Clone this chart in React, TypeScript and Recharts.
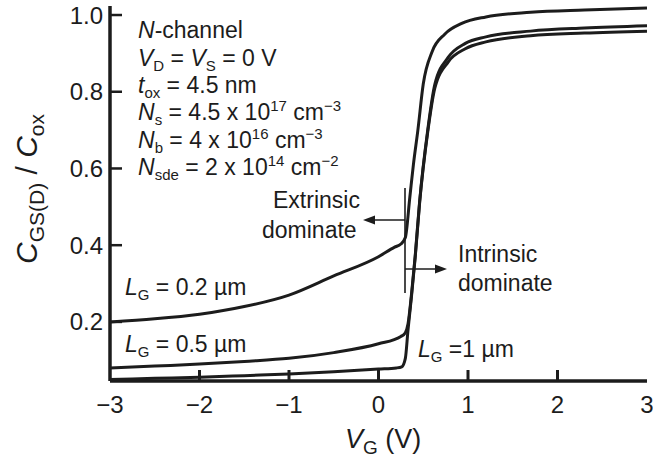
import React from 'react';
import { LineChart, Line, XAxis, YAxis } from 'recharts';

// gate voltage (V) and normalized capacitance, one pair per gate length
const vg02 = [-3, -2.5, -2, -1.5, -1, -0.5, 0, 0.18, 0.25, 0.3, 0.35, 0.39, 0.44, 0.5, 0.6, 0.74, 0.93, 1.2, 1.7, 2.3, 3];
const cap02 = [0.2, 0.208, 0.22, 0.24, 0.27, 0.32, 0.37, 0.395, 0.403, 0.42, 0.525, 0.61, 0.7, 0.82, 0.905, 0.95, 0.978, 0.995, 1.007, 1.013, 1.018];

const vg05 = [-3, -2.5, -2, -1.5, -1, -0.5, 0, 0.25, 0.3, 0.33, 0.37, 0.41, 0.46, 0.55, 0.63, 0.78, 0.97, 1.2, 1.7, 2.3, 3];
const cap05 = [0.08, 0.085, 0.09, 0.097, 0.105, 0.12, 0.143, 0.162, 0.172, 0.195, 0.275, 0.372, 0.515, 0.7, 0.82, 0.89, 0.926, 0.943, 0.958, 0.966, 0.972];

const vg1 = [-3, -2.5, -2, -1.5, -1, -0.5, 0, 0.2, 0.26, 0.3, 0.33, 0.37, 0.41, 0.46, 0.55, 0.63, 0.78, 0.97, 1.2, 1.7, 2.3, 3];
const cap1 = [0.05, 0.053, 0.056, 0.06, 0.064, 0.07, 0.077, 0.08, 0.083, 0.105, 0.18, 0.27, 0.368, 0.512, 0.695, 0.81, 0.878, 0.912, 0.93, 0.946, 0.953, 0.958];

const xTicks = [-3, -2, -1, 0, 1, 2, 3];
const yTicks = [0.2, 0.4, 0.6, 0.8, 1.0];

const toPoints = (v: number[], c: number[]) => v.map((x, i) => ({ v: x, c: c[i] }));

const INK = '#1c1c1c';
const FONT = '"Liberation Sans", Arial, Helvetica, sans-serif';

const XTick = ({ x, y, payload }: any) => {
  const val = payload.value as number;
  const label = val < 0 ? `\u2212${Math.abs(val)}` : `${val}`;
  return (
    <g>
      {val > -3 && val < 3 && <line x1={x} x2={x} y1={y} y2={y - 11} stroke={INK} strokeWidth={3} />}
      <text x={x} y={y + 32} textAnchor="middle" fontSize={24} fill={INK} fontFamily={FONT}>
        {label}
      </text>
    </g>
  );
};

const YTick = ({ x, y, payload }: any) => (
  <g>
    <line x1={x} x2={x + 12} y1={y} y2={y} stroke={INK} strokeWidth={2.5} />
    <text x={x - 7} y={y + 8.5} textAnchor="end" fontSize={24} fill={INK} fontFamily={FONT}>
      {(payload.value as number).toFixed(1)}
    </text>
  </g>
);

const Sub = ({ children }: { children: React.ReactNode }) => (
  <tspan fontSize={15} dy={5}>{children}</tspan>
);

const Sup = ({ children }: { children: React.ReactNode }) => (
  <tspan fontSize={15} dy={-9}>{children}</tspan>
);

const App: React.FC = () => {
  const d02 = toPoints(vg02, cap02);
  const d05 = toPoints(vg05, cap05);
  const d1 = toPoints(vg1, cap1);

  return (
    <div style={{ position: 'absolute', left: 0, top: 0, width: 653, height: 463, background: '#fff', fontFamily: FONT }}>
      <LineChart width={653} height={463} margin={{ top: 6, right: 6, bottom: 0, left: 0 }}>
        <XAxis
          xAxisId="b"
          type="number"
          dataKey="v"
          domain={[-3, 3]}
          ticks={xTicks}
          allowDataOverflow
          height={82}
          tickSize={0}
          tickMargin={0}
          tickLine={false}
          tick={<XTick />}
          axisLine={{ stroke: INK, strokeWidth: 3.5 }}
        />
        <XAxis
          xAxisId="t"
          orientation="top"
          type="number"
          dataKey="v"
          domain={[-3, 3]}
          height={0}
          tick={false}
          tickLine={false}
          axisLine={{ stroke: INK, strokeWidth: 2.5 }}
        />
        <YAxis
          yAxisId="l"
          type="number"
          domain={[0.046, 1.0235]}
          ticks={yTicks}
          allowDataOverflow
          width={110}
          tickSize={0}
          tickMargin={0}
          tickLine={false}
          tick={<YTick />}
          axisLine={{ stroke: INK, strokeWidth: 3.5 }}
        />
        <YAxis
          yAxisId="r"
          orientation="right"
          type="number"
          domain={[0.046, 1.0235]}
          width={0}
          tick={false}
          tickLine={false}
          axisLine={{ stroke: INK, strokeWidth: 2.5 }}
        />
        <Line xAxisId="b" yAxisId="l" data={d02} dataKey="c" type="monotone" stroke={INK} strokeWidth={3} dot={false} isAnimationActive={false} />
        <Line xAxisId="b" yAxisId="l" data={d05} dataKey="c" type="monotone" stroke={INK} strokeWidth={3} dot={false} isAnimationActive={false} />
        <Line xAxisId="b" yAxisId="l" data={d1} dataKey="c" type="monotone" stroke={INK} strokeWidth={3} dot={false} isAnimationActive={false} />
      </LineChart>

      <svg width={653} height={463} style={{ position: 'absolute', left: 0, top: 0, pointerEvents: 'none' }}>
        <g fill={INK} fontFamily={FONT} fontSize={23} style={{ whiteSpace: 'pre' }}>
          <text x={138} y={38}><tspan fontStyle="italic">N</tspan>-channel</text>
          <text x={138} y={66}>
            <tspan fontStyle="italic">V</tspan><Sub>D</Sub><tspan dy={-5}> = </tspan>
            <tspan fontStyle="italic">V</tspan><Sub>S</Sub><tspan dy={-5}> = 0 V</tspan>
          </text>
          <text x={138} y={93}>
            <tspan fontStyle="italic">t</tspan><Sub>ox</Sub><tspan dy={-5}> = 4.5 nm</tspan>
          </text>
          <text x={138} y={120}>
            <tspan fontStyle="italic">N</tspan><Sub>s</Sub><tspan dy={-5}> = 4.5 x 10</tspan>
            <Sup>17</Sup><tspan dy={9}> cm</tspan>
            <Sup>{'\u22123'}</Sup>
          </text>
          <text x={138} y={148}>
            <tspan fontStyle="italic">N</tspan><Sub>b</Sub><tspan dy={-5}> = 4 x 10</tspan>
            <Sup>16</Sup><tspan dy={9}> cm</tspan>
            <Sup>{'\u22123'}</Sup>
          </text>
          <text x={138} y={175}>
            <tspan fontStyle="italic">N</tspan><Sub>sde</Sub><tspan dy={-5}> = 2 x 10</tspan>
            <Sup>14</Sup><tspan dy={9}> cm</tspan>
            <Sup>{'\u22122'}</Sup>
          </text>

          <text x={273} y={208}>Extrinsic</text>
          <text x={262} y={238}>dominate</text>
          <text x={458} y={262}>Intrinsic</text>
          <text x={458} y={291}>dominate</text>

          <text x={125} y={295}>
            <tspan fontStyle="italic">L</tspan><Sub>G</Sub><tspan dy={-5}> = 0.2 µm</tspan>
          </text>
          <text x={125} y={352}>
            <tspan fontStyle="italic">L</tspan><Sub>G</Sub><tspan dy={-5}> = 0.5 µm</tspan>
          </text>
          <text x={418} y={357}>
            <tspan fontStyle="italic">L</tspan><Sub>G</Sub><tspan dy={-5}> =1 µm</tspan>
          </text>

          <text x={345} y={448} fontSize={27}>
            <tspan fontStyle="italic">V</tspan><tspan fontSize={19} dy={6}>G</tspan><tspan dy={-6}> (V)</tspan>
          </text>
          <text x={37} y={189} fontSize={30} textAnchor="middle" transform="rotate(-90 37 189)">
            <tspan fontStyle="italic">C</tspan><tspan fontSize={21} dy={7}>GS(D)</tspan><tspan dy={-7}> / </tspan>
            <tspan fontStyle="italic">C</tspan><tspan fontSize={21} dy={7}>ox</tspan>
          </text>
        </g>

        <g stroke={INK} strokeWidth={1.6} fill="none">
          <line x1={405} x2={405} y1={188} y2={293} />
          <line x1={405} x2={372} y1={220} y2={220} />
          <line x1={405} x2={438} y1={269} y2={269} />
        </g>
        <g fill={INK}>
          <polygon points="363,220 375,215.5 375,224.5" />
          <polygon points="447,269 435,264.5 435,273.5" />
        </g>
      </svg>
    </div>
  );
};

export default App;
